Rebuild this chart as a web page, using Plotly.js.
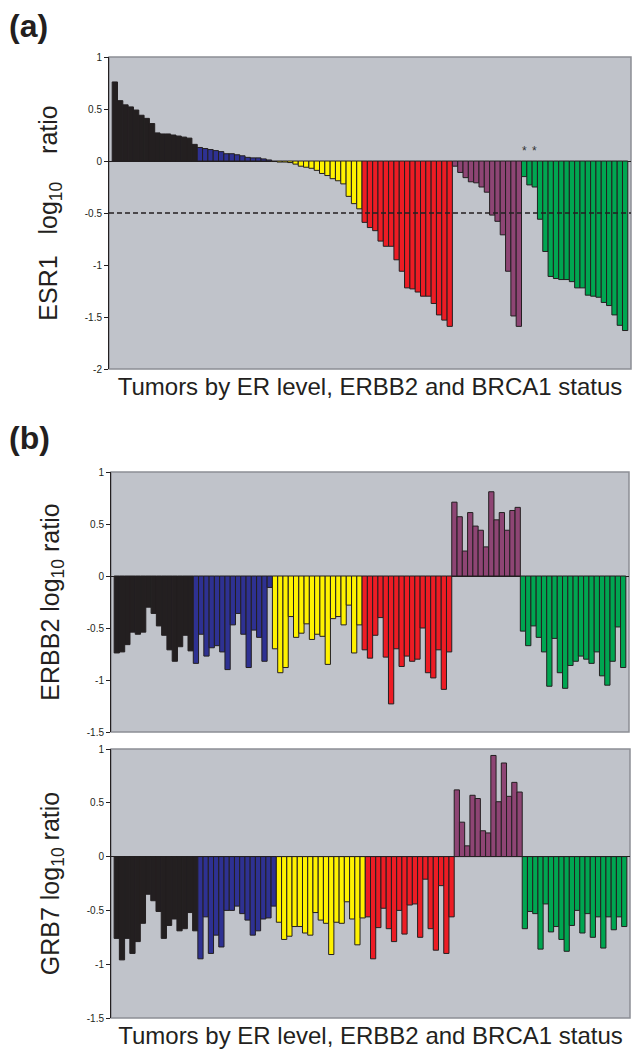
<!DOCTYPE html>
<html><head><meta charset="utf-8">
<script src="https://cdn.plot.ly/plotly-3.0.1.min.js"></script>
<style>html,body{margin:0;padding:0;background:#fff}#chart{width:632px;height:1049px}</style>
</head><body><div id="chart"></div>
<script>
// Group colours: ER high, ER mid, ER low-mid, ER low, ERBB2 amplified, BRCA1
const groupColors = ['#231F20', '#2E3192', '#FFF200', '#ED1C24', '#8E4574', '#00A651'];

// ESR1 log10 ratio (panel a)
const esr1Black  = [0.76, 0.58, 0.54, 0.52, 0.49, 0.44, 0.41, 0.36, 0.27, 0.26, 0.26, 0.25, 0.24, 0.23, 0.22, 0.16];
const esr1Blue   = [0.13, 0.12, 0.11, 0.10, 0.09, 0.07, 0.07, 0.06, 0.05, 0.035, 0.03, 0.03, 0.02, 0.01];
const esr1Yellow = [-0.005, -0.01, -0.01, -0.015, -0.03, -0.05, -0.06, -0.07, -0.09, -0.12, -0.14, -0.17, -0.19, -0.22, -0.34, -0.41, -0.46];
const esr1Red    = [-0.59, -0.64, -0.67, -0.77, -0.82, -0.82, -0.95, -1.06, -1.22, -1.23, -1.26, -1.30, -1.30, -1.37, -1.48, -1.53, -1.59];
const esr1Purple = [-0.05, -0.11, -0.16, -0.20, -0.21, -0.25, -0.30, -0.52, -0.58, -0.71, -1.06, -1.49, -1.59];
const esr1Green  = [-0.15, -0.23, -0.25, -0.56, -0.87, -1.11, -1.13, -1.14, -1.14, -1.16, -1.22, -1.22, -1.29, -1.30, -1.31, -1.36, -1.39, -1.48, -1.58, -1.63];
const esr1Starred = [0, 2]; // positions within the green group marked with *

// ERBB2 log10 ratio (panel b, top)
const erbb2Black  = [-0.74, -0.73, -0.66, -0.54, -0.56, -0.54, -0.30, -0.36, -0.48, -0.57, -0.71, -0.82, -0.68, -0.57, -0.72];
const erbb2Blue   = [-0.84, -0.56, -0.77, -0.69, -0.67, -0.73, -0.90, -0.47, -0.36, -0.56, -0.88, -0.52, -0.59, -0.82, -0.11];
const erbb2Yellow = [-0.70, -0.93, -0.88, -0.39, -0.59, -0.55, -0.46, -0.61, -0.56, -0.58, -0.85, -0.41, -0.39, -0.47, -0.28, -0.74, -0.47];
const erbb2Red    = [-0.71, -0.79, -0.57, -0.40, -0.78, -1.23, -0.70, -0.87, -0.77, -0.82, -0.80, -0.50, -0.93, -0.98, -0.71, -1.09, -0.73];
const erbb2Purple = [0.71, 0.57, 0.24, 0.61, 0.48, 0.44, 0.28, 0.81, 0.54, 0.61, 0.44, 0.63, 0.66];
const erbb2Green  = [-0.53, -0.67, -0.48, -0.59, -0.73, -1.06, -0.60, -0.93, -1.08, -0.86, -0.82, -0.77, -0.80, -0.84, -0.73, -0.96, -1.05, -0.82, -0.49, -0.88];

// GRB7 log10 ratio (panel b, bottom)
const grb7Black  = [-0.76, -0.96, -0.76, -0.90, -0.79, -0.62, -0.35, -0.41, -0.51, -0.76, -0.64, -0.58, -0.69, -0.67, -0.52, -0.69];
const grb7Blue   = [-0.95, -0.56, -0.90, -0.73, -0.84, -0.50, -0.50, -0.46, -0.53, -0.59, -0.73, -0.69, -0.58, -0.57, -0.46];
const grb7Yellow = [-0.61, -0.77, -0.74, -0.65, -0.65, -0.71, -0.73, -0.52, -0.59, -0.62, -0.91, -0.61, -0.62, -0.42, -0.58, -0.82, -0.57];
const grb7Red    = [-0.56, -0.95, -0.66, -0.48, -0.67, -0.79, -0.50, -0.72, -0.45, -0.44, -0.75, -0.21, -0.67, -0.87, -0.27, -0.90, -0.56];
const grb7Purple = [0.62, 0.32, 0.10, 0.57, 0.54, 0.24, 0.22, 0.94, 0.51, 0.87, 0.56, 0.69, 0.60];
const grb7Green  = [-0.67, -0.51, -0.53, -0.86, -0.44, -0.70, -0.65, -0.77, -0.88, -0.64, -0.50, -0.71, -0.53, -0.75, -0.56, -0.85, -0.56, -0.68, -0.56, -0.65];

// Tick labels
const tickValsA = [1, 0.5, 0, -0.5, -1, -1.5, -2];
const tickTextA = ['1', '0.5', '0', '-0.5', '-1', '-1.5', '-2'];
const tickValsB = [1, 0.5, 0, -0.5, -1, -1.5];
const tickTextB = ['1', '0.5', '0', '-0.5', '-1', '-1.5'];
const thresholdA = -0.5;

const NB = '\u00A0';
const xTitle = 'Tumors by ER level, ERBB2 and BRCA1 status';
const yTitleA = 'ESR1' + NB + NB + NB + 'log<sub>10</sub>' + NB + NB + NB + NB + 'ratio';
const yTitleB = 'ERBB2 log<sub>10</sub>' + NB + 'ratio';
const yTitleC = 'GRB7 log<sub>10</sub>' + NB + 'ratio';
const FONT = '"Liberation Sans", Arial, Helvetica, sans-serif';
const INK = '#231F20';

function buildTrace(groups, xa, ya) {
  const xs = [], ys = [], cs = [];
  let idx = 0;
  groups.forEach((vals, g) => {
    vals.forEach(v => { xs.push(idx++); ys.push(v); cs.push(groupColors[g]); });
  });
  return {
    type: 'bar', x: xs, y: ys, xaxis: xa, yaxis: ya,
    marker: { color: cs, line: { color: INK, width: 1 } },
    width: 1, showlegend: false, hoverinfo: 'y'
  };
}

const gA = [esr1Black, esr1Blue, esr1Yellow, esr1Red, esr1Purple, esr1Green];
const gB = [erbb2Black, erbb2Blue, erbb2Yellow, erbb2Red, erbb2Purple, erbb2Green];
const gC = [grb7Black, grb7Blue, grb7Yellow, grb7Red, grb7Purple, grb7Green];
const nA = gA.reduce((s, a) => s + a.length, 0);
const nB = gB.reduce((s, a) => s + a.length, 0);
const nC = gC.reduce((s, a) => s + a.length, 0);

const data = [buildTrace(gA, 'x', 'y'), buildTrace(gB, 'x2', 'y2'), buildTrace(gC, 'x3', 'y3')];

const W = 632, H = 1049;
const dx = (l, r) => [l / W, r / W];
const dy = (t, b) => [1 - b / H, 1 - t / H];
const PAD = 0.6;

function xAxis(dom, anchor, n, withTitle) {
  const ax = {
    domain: dom, anchor: anchor, range: [-0.5 - PAD, n - 0.5 + PAD],
    showticklabels: false, ticks: '', showgrid: false, zeroline: false, showline: false,
    fixedrange: true
  };
  if (withTitle) ax.title = { text: xTitle, font: { family: FONT, size: 24, color: INK }, standoff: 9 };
  return ax;
}
function yAxis(dom, anchor, range, tv, tt, title) {
  return {
    domain: dom, anchor: anchor, range: range, tickvals: tv, ticktext: tt,
    ticks: 'outside', ticklen: 4, tickcolor: INK, tickwidth: 1,
    tickfont: { family: FONT, size: 10, color: INK },
    showline: true, linecolor: INK, linewidth: 1, showgrid: false,
    zeroline: true, zerolinecolor: INK, zerolinewidth: 1,
    title: { text: title, font: { family: FONT, size: 25, color: INK }, standoff: 20 },
    fixedrange: true
  };
}

const borderShape = (xr, yr) => ({
  type: 'rect', xref: xr + ' domain', yref: yr + ' domain', x0: 0, x1: 1, y0: 0, y1: 1,
  line: { color: '#8C8F95', width: 1.5 }, layer: 'below'
});

const greenStartA = nA - esr1Green.length;

const layout = {
  width: W, height: H,
  margin: { l: 0, r: 0, t: 0, b: 0 },
  paper_bgcolor: '#FFFFFF', plot_bgcolor: '#C0C3CA',
  bargap: 0, barmode: 'overlay',
  font: { family: FONT, color: INK },
  xaxis: xAxis(dx(109, 631), 'y', nA, true),
  yaxis: yAxis(dy(57, 369), 'x', [-2, 1], tickValsA, tickTextA, yTitleA),
  xaxis2: xAxis(dx(111, 629), 'y2', nB, false),
  yaxis2: yAxis(dy(472, 732), 'x2', [-1.5, 1], tickValsB, tickTextB, yTitleB),
  xaxis3: xAxis(dx(111, 630), 'y3', nC, true),
  yaxis3: yAxis(dy(749, 1018), 'x3', [-1.5, 1], tickValsB, tickTextB, yTitleC),
  shapes: [
    borderShape('x', 'y'), borderShape('x2', 'y2'), borderShape('x3', 'y3'),
    { type: 'line', xref: 'x domain', yref: 'y', x0: 0, x1: 1, y0: thresholdA, y1: thresholdA,
      line: { color: INK, width: 1.5, dash: '5px,3px' }, layer: 'above' }
  ],
  annotations: [
    { text: '<b>(a)</b>', xref: 'paper', yref: 'paper', x: 7 / W, y: 1 - 26 / H,
      xanchor: 'left', yanchor: 'middle', showarrow: false, font: { family: FONT, size: 32, color: INK } },
    { text: '<b>(b)</b>', xref: 'paper', yref: 'paper', x: 7 / W, y: 1 - 438 / H,
      xanchor: 'left', yanchor: 'middle', showarrow: false, font: { family: FONT, size: 32, color: INK } }
  ].concat(esr1Starred.map(k => ({
    text: '*', xref: 'x', yref: 'y', x: greenStartA + k, y: 0, yanchor: 'bottom', yshift: 1,
    showarrow: false, font: { family: FONT, size: 12, color: '#333' }
  })))
};

Plotly.newPlot('chart', data, layout, { displayModeBar: false, staticPlot: true });
</script>
</body></html>
